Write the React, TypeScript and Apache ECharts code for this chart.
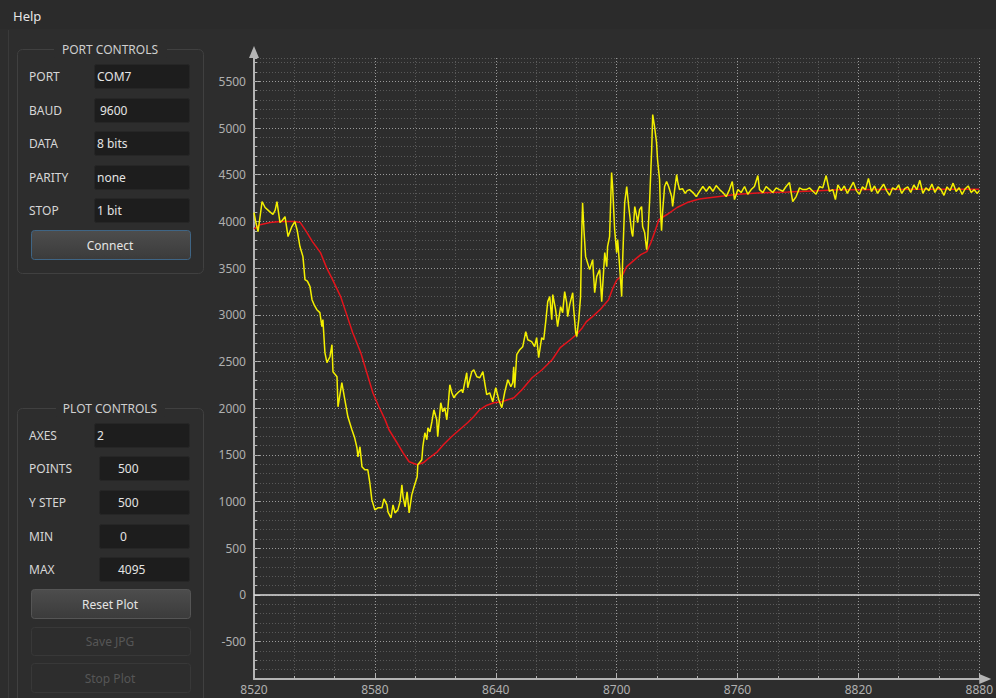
import React, { useEffect, useRef } from 'react';
import * as echarts from 'echarts';

// ---------- axis ranges & ticks ----------
const xRange = [8520, 8880];
const xMinorStep = 20;
const xMajorStep = 60;
const yRange = [-900, 5750];
const yMinorStep = 100;
const yMajorLines = [-500, 500, 1000, 1500, 2000, 2500, 3000, 3500, 4000, 4500, 5000, 5500];
const yMajorTicks = [-500, 0, 500, 1000, 1500, 2000, 2500, 3000, 3500, 4000, 4500, 5000, 5500];
const yZeroLine = [0];

// ---------- raw signal (yellow) ----------
const rawStart: [number, number][] = [
  [8520, 4095], [8521, 3980], [8522, 3891], [8523, 4050], [8524, 4213], [8525.5, 4149], [8527.5, 4110],
  [8529.4, 4074], [8530.5, 4120], [8531.4, 4213], [8532.9, 3988], [8534, 4010], [8535.4, 4052],
  [8536.9, 3838], [8538.8, 3945], [8540.3, 3998], [8541.5, 3900], [8542.8, 3731], [8544.3, 3623],
  [8545.3, 3377], [8546.5, 3360], [8547.8, 3302], [8548.8, 3162], [8550, 3100], [8551.2, 3055],
  [8552.7, 3023], [8553.7, 2873], [8554.2, 2948], [8555.2, 2594], [8556.2, 2487], [8557.7, 2551],
  [8558.7, 2680], [8559.2, 2390], [8561.2, 2337], [8561.7, 2015], [8563.6, 2273], [8565.1, 2090],
  [8566.6, 1908], [8568.6, 1769], [8570, 1680], [8571.1, 1576], [8571.6, 1479], [8572.6, 1587],
  [8573.6, 1372], [8575, 1340], [8576.5, 1340], [8577.5, 1200], [8578.5, 1018], [8580, 911], [8581.5, 933],
];
const rawTrough: [number, number][] = [
  [8583.5, 933], [8584.5, 1029], [8586, 965], [8586.5, 890], [8588, 825], [8589, 965], [8590, 879],
  [8591.4, 911], [8592.5, 1000], [8593.4, 1179], [8594, 1051], [8595, 943], [8596, 1104], [8597, 879],
  [8598.3, 1072], [8599.3, 1147], [8601, 1265], [8601.3, 1394], [8603.3, 1447], [8603.8, 1587],
  [8604.8, 1737], [8605.8, 1662], [8606.3, 1790], [8607.3, 1747], [8608.3, 1855], [8609.3, 1983],
  [8610.7, 1876], [8611.2, 1694], [8612.7, 2058], [8613.7, 1962], [8614.7, 2005], [8615.7, 1876],
  [8616.2, 1983], [8617.2, 2251], [8618.2, 2165], [8619.2, 2112], [8620.2, 2144], [8621.7, 2176],
  [8623.1, 2198], [8623.6, 2165], [8624.6, 2273], [8625.6, 2380], [8626.1, 2219], [8628.1, 2391],
  [8629.1, 2412], [8630.6, 2337], [8632.1, 2326], [8633.6, 2391], [8635.5, 2144], [8637, 2165],
  [8638.5, 2069], [8640, 2219], [8641.5, 2090], [8643, 2005],
];
const rawRise: [number, number][] = [
  [8644.5, 2176], [8646, 2305], [8647.5, 2230], [8648.4, 2273], [8648.9, 2444], [8649.4, 2219],
  [8650.4, 2573], [8651.9, 2626], [8652.9, 2648], [8653.4, 2659], [8654.9, 2819], [8655.9, 2733],
  [8657.8, 2712], [8659.3, 2659], [8660.3, 2755], [8661.3, 2541], [8662.8, 2755], [8663.8, 2733],
  [8664.8, 2927], [8665.8, 3141], [8666.8, 3195], [8667.8, 2948], [8668.3, 3216], [8669.7, 3055],
  [8670.7, 2873], [8672.2, 3087], [8673.2, 3023], [8674.2, 3248], [8675.2, 3130], [8675.7, 2980],
  [8676.7, 3109], [8678.2, 3237], [8678.7, 3055], [8679.7, 2808], [8680.2, 2766], [8681.2, 2948],
  [8682.1, 3195], [8682.6, 3806], [8683.1, 4200], [8683.8, 3900], [8684.6, 3623],
];
const rawBurst: [number, number][] = [
  [8686.6, 3484], [8688.1, 3591], [8689.1, 3237], [8690.1, 3409], [8691.6, 3484], [8692.6, 3141],
  [8694.1, 3666], [8695.1, 3516], [8695.5, 3730], [8696.5, 3838], [8697.5, 4524], [8698, 4374],
  [8699, 3913], [8700, 3666], [8700.5, 3806], [8701.5, 3516], [8702.5, 3195], [8703, 3591],
  [8704, 4202], [8705, 4374], [8706, 4159], [8707.5, 3881], [8708, 3838], [8709, 4159], [8710, 4052],
  [8710.4, 3988], [8711.4, 4127], [8712.4, 4159], [8712.9, 3945], [8713.9, 3881], [8714.9, 3698],
  [8715.4, 3806], [8716.4, 4234], [8717.4, 4770], [8717.9, 5145], [8718.8, 5017], [8719.8, 4845],
  [8720.3, 4663], [8721.3, 4449], [8721.8, 4095], [8722.3, 3900], [8722.8, 4100], [8723.8, 4374],
  [8724.8, 4427], [8725.8, 4374], [8727.3, 4266], [8727.8, 4160], [8728.8, 4341], [8729.8, 4502],
  [8730.3, 4427],
];
const rawSettled: [number, number][] = [
  [8731.2, 4341], [8732.7, 4350], [8734, 4300], [8735, 4330], [8736.2, 4341], [8737.9, 4309],
  [8739.5, 4266], [8741.2, 4323], [8742.8, 4374], [8744.5, 4323], [8746.1, 4374], [8747.8, 4323],
  [8749.4, 4384], [8751.1, 4341], [8752.7, 4309], [8754.4, 4266], [8756, 4341], [8757.4, 4427],
  [8758.5, 4234], [8760.2, 4341], [8761.8, 4309], [8763.5, 4374], [8765.1, 4291], [8766.8, 4341],
  [8768.4, 4374], [8770.1, 4491], [8770.9, 4341], [8772.6, 4309], [8774.2, 4374], [8775.9, 4341],
  [8777.5, 4309], [8779.2, 4359], [8780.8, 4341], [8782.5, 4323], [8784.1, 4374], [8785.8, 4416],
  [8787.4, 4213], [8789.1, 4266], [8790.8, 4359], [8792.4, 4341], [8794.1, 4341], [8795.7, 4359],
  [8797.4, 4323], [8799, 4291], [8800.7, 4374], [8802.3, 4359], [8804, 4491], [8805.6, 4323],
  [8807.3, 4341], [8808.6, 4234], [8809.8, 4391], [8811.5, 4330], [8813, 4380], [8814.5, 4300],
  [8816, 4360], [8817.5, 4420], [8819, 4330], [8820.5, 4290], [8822, 4370], [8823.5, 4340],
  [8825, 4460], [8826.5, 4320], [8828, 4380], [8829.5, 4300], [8831, 4350], [8832.5, 4400],
  [8834, 4330], [8835.5, 4280], [8837, 4360], [8838.5, 4340], [8840, 4390], [8841.5, 4300],
  [8843, 4350], [8844.5, 4370], [8846, 4310], [8847.5, 4390], [8849, 4340], [8850.5, 4440],
  [8852, 4300], [8853.5, 4360], [8855, 4330], [8856.5, 4400], [8858, 4310], [8859.5, 4370],
  [8861, 4340], [8862.5, 4280], [8864, 4370], [8865.5, 4330], [8867, 4410], [8868.5, 4320],
  [8870, 4360], [8871.5, 4290], [8873, 4350], [8874.5, 4380], [8876, 4310], [8877.5, 4340],
  [8879, 4300], [8880, 4330],
];

// ---------- filtered signal (red) ----------
const filtered: [number, number][] = [
  [8520, 3920], [8523, 3965], [8528, 3988], [8533, 3998], [8540, 4000], [8543, 3988], [8546, 3891],
  [8549, 3784], [8553, 3666], [8556, 3505], [8559, 3377], [8563, 3195], [8566, 3002], [8569, 2808],
  [8573, 2594], [8576, 2380], [8579, 2165], [8582, 2015], [8585, 1880], [8587, 1769], [8591, 1630],
  [8594, 1522], [8597, 1426], [8601, 1394], [8604, 1415], [8607, 1469], [8611, 1533], [8614, 1608],
  [8618, 1694], [8622, 1769], [8626, 1844], [8629, 1908], [8632, 1983], [8635, 2026], [8639, 2058],
  [8643, 2069], [8649, 2112], [8653, 2198], [8658, 2326], [8663, 2412], [8668, 2519], [8672, 2648],
  [8677, 2733], [8680, 2787], [8683, 2862], [8685, 2927], [8688, 2980], [8692, 3060], [8696, 3160],
  [8698, 3280], [8700, 3370], [8703, 3430], [8705, 3516], [8709, 3591], [8712, 3645], [8715, 3677],
  [8717, 3773], [8719, 3891], [8721, 4020], [8725, 4074], [8730, 4149], [8735, 4202], [8741, 4240],
  [8750, 4265], [8760, 4290], [8770, 4305], [8785, 4315], [8800, 4328], [8810, 4338], [8830, 4343],
  [8850, 4345], [8880, 4345],
];

// ---------- side panel texts ----------
const portLabels = ['PORT', 'BAUD', 'DATA', 'PARITY', 'STOP'];
const portValues = ['COM7', '9600', '8 bits', 'none', '1 bit'];
const plotLabels = ['AXES', 'POINTS', 'Y STEP', 'MIN', 'MAX'];
const plotValues = ['2', '500', '500', '0', '4095'];

const BG = '#2d2d2d';
const FONT = '"Noto Sans", "DejaVu Sans", sans-serif';

function txt(text: string, x: number, y: number, fill: string, size = 12, align = 'left') {
  return {
    type: 'text', x, y, silent: true,
    style: { text, fill, font: `${size}px ${FONT}`, align, verticalAlign: 'middle' },
  };
}
function box(x: number, y: number, w: number, h: number, fill: any, stroke: string, r = 2) {
  return {
    type: 'rect', silent: true,
    shape: { x: x + 0.5, y: y + 0.5, width: w, height: h, r },
    style: { fill, stroke, lineWidth: 1 },
  };
}
function btnGrad() {
  return new echarts.graphic.LinearGradient(0, 0, 0, 1, [
    { offset: 0, color: '#4d4d4d' },
    { offset: 1, color: '#3b3b3b' },
  ]);
}

function buildPanel() {
  const g: any[] = [];
  g.push(box(-1, -1, 998, 29, '#2b2b2b', '#2b2b2b', 0));
  g.push(txt('Help', 13, 16, '#e6e6e6', 13));
  g.push({ type: 'line', silent: true, shape: { x1: 8.5, y1: 30, x2: 8.5, y2: 698 }, style: { stroke: '#3a3a3a', lineWidth: 1 } });

  // PORT CONTROLS group
  g.push(box(17, 49, 186, 224, 'none', '#404040', 5));
  g.push(box(54, 41, 112, 16, BG, BG, 0));
  g.push(txt('PORT CONTROLS', 110, 49, '#cfcfcf', 12, 'center'));
  const portY = [76, 110, 143, 177, 210];
  portLabels.forEach((l, i) => {
    g.push(txt(l, 29, portY[i], '#d6d6d6'));
    g.push(box(94, portY[i] - 12, 95, 24, '#1d1d1d', '#262626'));
    g.push(txt(portValues[i], i === 1 ? 100 : 97, portY[i], '#e4e4e4'));
  });
  g.push(box(31, 230, 159, 29, btnGrad(), '#3f6585', 3));
  g.push(txt('Connect', 110, 245, '#e4e4e4', 12, 'center'));

  // PLOT CONTROLS group
  g.push(box(17, 408, 186, 320, 'none', '#404040', 5));
  g.push(box(56, 400, 108, 16, BG, BG, 0));
  g.push(txt('PLOT CONTROLS', 110, 408, '#cfcfcf', 12, 'center'));
  const plotY = [435, 468, 502, 536, 569];
  plotLabels.forEach((l, i) => {
    g.push(txt(l, 29, plotY[i], '#d6d6d6'));
    const bx = i === 0 ? 94 : 99;
    g.push(box(bx, plotY[i] - 12, 189 - bx, 24, '#1d1d1d', '#262626'));
    const tx = i === 0 ? 97 : i === 3 ? 120 : 118;
    g.push(txt(plotValues[i], tx, plotY[i], '#e4e4e4'));
  });
  g.push(box(31, 589, 159, 29, btnGrad(), '#555555', 3));
  g.push(txt('Reset Plot', 110, 604, '#e4e4e4', 12, 'center'));
  g.push(box(31, 627, 159, 28, BG, '#383838', 3));
  g.push(txt('Save JPG', 110, 641, '#565656', 12, 'center'));
  g.push(box(31, 663, 159, 29, BG, '#383838', 3));
  g.push(txt('Stop Plot', 110, 678, '#565656', 12, 'center'));
  return g;
}

export default function App() {
  const ref = useRef<HTMLDivElement>(null);
  useEffect(() => {
    if (!ref.current) return;
    document.body.style.margin = '0';
    const chart = echarts.init(ref.current, undefined, { renderer: 'svg' });
    const axisColor = '#b4b4b4';
    const minorGrid = { show: true, lineStyle: { color: '#595959', type: [1, 2], width: 1 } };
    const majorGrid = { show: true, lineStyle: { color: '#9a9a9a', type: [1, 2], width: 1 } };
    const signal = [...rawStart, ...rawTrough, ...rawRise, ...rawBurst, ...rawSettled];
    chart.setOption({
      animation: false,
      backgroundColor: BG,
      textStyle: { fontFamily: FONT },
      grid: { left: 254, right: 16, top: 58, bottom: 19, containLabel: false },
      xAxis: [
        {
          type: 'value', min: xRange[0], max: xRange[1], interval: xMinorStep, position: 'bottom',
          axisLine: { show: false, onZero: false },
          axisTick: { show: true, inside: true, length: 3, lineStyle: { color: axisColor } },
          axisLabel: { show: false },
          splitLine: minorGrid,
        },
        {
          type: 'value', min: xRange[0], max: xRange[1], interval: xMajorStep, position: 'bottom',
          axisLine: {
            show: true, onZero: false, symbol: ['none', 'triangle'], symbolSize: [10, 12], symbolOffset: [0, 6],
            lineStyle: { color: axisColor, width: 2 },
          },
          axisTick: { show: true, inside: true, length: 6, lineStyle: { color: axisColor } },
          axisLabel: {
            show: true, color: '#b0b0b0', fontSize: 12, fontFamily: FONT, margin: 4,
            formatter: (v: number) => String(v),
          },
          splitLine: majorGrid,
        },
      ],
      yAxis: [
        {
          type: 'value', min: yRange[0], max: yRange[1], interval: yMinorStep, position: 'left',
          axisLine: {
            show: true, onZero: false, symbol: ['none', 'triangle'], symbolSize: [10, 12], symbolOffset: [0, 6],
            lineStyle: { color: axisColor, width: 2 },
          },
          axisTick: { show: true, inside: true, length: 3, lineStyle: { color: axisColor } },
          axisLabel: {
            show: true, color: '#b0b0b0', fontSize: 12, fontFamily: FONT, margin: 8,
            formatter: (v: number) => (v % 500 === 0 ? String(v) : ''),
          },
          splitLine: minorGrid,
        },
        {
          type: 'value', min: yRange[0], max: yRange[1], position: 'left',
          axisLine: { show: false, onZero: false },
          axisTick: { show: true, inside: true, length: 6, lineStyle: { color: axisColor }, customValues: yMajorTicks },
          axisLabel: { show: false },
          splitLine: { show: false },
        },
      ],
      graphic: buildPanel(),
      series: [
        {
          type: 'line', name: 'filtered', data: filtered, xAxisIndex: 0, yAxisIndex: 0,
          showSymbol: false, z: 10, lineStyle: { color: '#e4141c', width: 1.5 },
          markLine: {
            silent: true, symbol: ['none', 'none'], label: { show: false },
            lineStyle: majorGrid.lineStyle,
            data: [
              ...yMajorLines.map((v) => ({ yAxis: v })),
              ...yZeroLine.map((v) => ({ yAxis: v, lineStyle: { type: 'solid', color: '#dcdcdc', width: 1.5 } })),
            ],
          },
        },
        {
          type: 'line', name: 'raw', data: signal, xAxisIndex: 0, yAxisIndex: 0,
          showSymbol: false, z: 11, lineStyle: { color: '#f4f000', width: 1.5 },
        },
      ],
    });
    return () => chart.dispose();
  }, []);
  return <div ref={ref} style={{ position: 'fixed', left: 0, top: 0, width: 996, height: 698 }} />;
}
